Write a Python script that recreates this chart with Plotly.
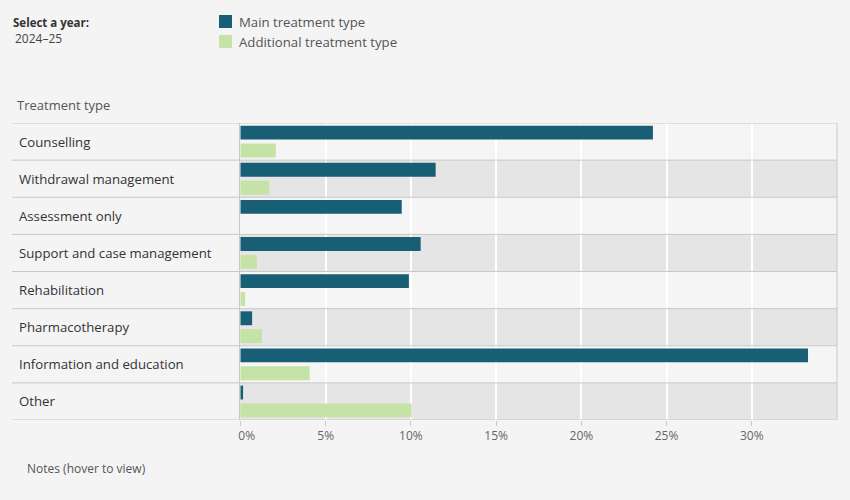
import plotly.graph_objects as go

categories = ["Counselling", "Withdrawal management", "Assessment only",
              "Support and case management", "Rehabilitation", "Pharmacotherapy",
              "Information and education", "Other"]
main_pct = [24.2, 11.45, 9.46, 10.57, 9.88, 0.68, 33.3, 0.15]
additional_pct = [2.07, 1.68, None, 0.96, 0.27, 1.26, 4.06, 10.04]
tick_vals = [0, 5, 10, 15, 20, 25, 30]
tick_text = ["\u00a0\u00a0\u00a0\u00a00%", "5%", "10%", "15%", "20%", "25%", "30%"]
series_names = ["Main treatment type", "Additional treatment type"]
colors = ["#185e74", "#c5e3a6"]
year_label = "2024–25"

W, H = 850, 500
L, R, T, B = 240, 13, 123, 80
PW, PH = W - L - R, H - T - B
FONT = "Open Sans"


def px_x(x):
    return (x - L) / PW


def px_y(y):
    return (H - B - y) / PH


fig = go.Figure()
fig.add_trace(go.Bar(y=categories, x=main_pct, orientation="h", name=series_names[0],
                     marker=dict(color=colors[0], line=dict(width=0)),
                     hovertemplate="%{y}<br>%{x:.1f}%<extra>" + series_names[0] + "</extra>"))
fig.add_trace(go.Bar(y=categories, x=additional_pct, orientation="h", name=series_names[1],
                     marker=dict(color=colors[1], line=dict(width=0)),
                     hovertemplate="%{y}<br>%{x:.1f}%<extra>" + series_names[1] + "</extra>"))

shapes = []
# banding on alternating rows (plot area only)
for i, c in enumerate(categories):
    if i % 2 == 1:
        shapes.append(dict(type="rect", xref="paper", yref="y", x0=0, x1=1,
                           y0=i - 0.5, y1=i + 0.5, fillcolor="#e5e5e5",
                           line=dict(width=0), layer="below"))
# horizontal row separators spanning label column + plot
for i in range(len(categories) + 1):
    shapes.append(dict(type="line", xref="paper", yref="y", x0=px_x(12), x1=1,
                       y0=i - 0.5, y1=i - 0.5, line=dict(color="#c8c8c8", width=1),
                       layer="above"))
# right border
shapes.append(dict(type="line", xref="paper", yref="paper", x0=1, x1=1, y0=0, y1=1,
                   line=dict(color="#c8c8c8", width=1)))
# legend squares
for k, col in enumerate(colors):
    top = 15 + 20 * k
    shapes.append(dict(type="rect", xref="paper", yref="paper",
                       x0=px_x(219), x1=px_x(232), y0=px_y(top + 13), y1=px_y(top),
                       fillcolor=col, line=dict(width=0)))

annotations = []
for i, c in enumerate(categories):
    annotations.append(dict(text=c, xref="paper", yref="y", x=px_x(17), y=i,
                            xanchor="left", yanchor="middle", showarrow=False,
                            font=dict(family=FONT, size=13.2, color="#333333")))
for k, nm in enumerate(series_names):
    annotations.append(dict(text=nm, xref="paper", yref="paper", x=px_x(237),
                            y=px_y(22 + 20 * k), xanchor="left", yanchor="middle",
                            showarrow=False, font=dict(family=FONT, size=13.2, color="#555555")))
annotations += [
    dict(text="<b>Select a year:</b>", xref="paper", yref="paper", x=px_x(11), y=px_y(22),
         xanchor="left", yanchor="middle", showarrow=False,
         font=dict(family=FONT, size=11.5, color="#333333")),
    dict(text=year_label, xref="paper", yref="paper", x=px_x(13), y=px_y(39),
         xanchor="left", yanchor="middle", showarrow=False,
         font=dict(family=FONT, size=12, color="#444444")),
    dict(text="Treatment type", xref="paper", yref="paper", x=px_x(15), y=px_y(105),
         xanchor="left", yanchor="middle", showarrow=False,
         font=dict(family=FONT, size=13, color="#555555")),
    dict(text="Notes (hover to view)", xref="paper", yref="paper", x=px_x(25), y=px_y(468),
         xanchor="left", yanchor="middle", showarrow=False,
         font=dict(family=FONT, size=12, color="#555555")),
]

fig.update_layout(
    width=W, height=H,
    margin=dict(l=L, r=R, t=T, b=B, pad=0),
    paper_bgcolor="#f4f4f4", plot_bgcolor="#f5f5f5",
    barmode="group", bargap=0.04, bargroupgap=0.22,
    showlegend=False,
    shapes=shapes, annotations=annotations,
    font=dict(family=FONT, size=12, color="#555555"),
    xaxis=dict(range=[-0.03, 35], tickvals=tick_vals, ticktext=tick_text,
               showgrid=True, gridcolor="#ffffff", gridwidth=1.5, zeroline=False,
               ticks="outside", ticklen=5, tickcolor="#c8c8c8",
               tickfont=dict(family=FONT, size=12, color="#666666"),
               showline=False, fixedrange=True),
    yaxis=dict(categoryorder="array", categoryarray=categories,
               range=[len(categories) - 0.5, -0.5], showticklabels=False,
               showgrid=False, zeroline=False, showline=True, linecolor="#c8c8c8",
               linewidth=1, ticks="", fixedrange=True),
)

fig.write_html("out.html")
